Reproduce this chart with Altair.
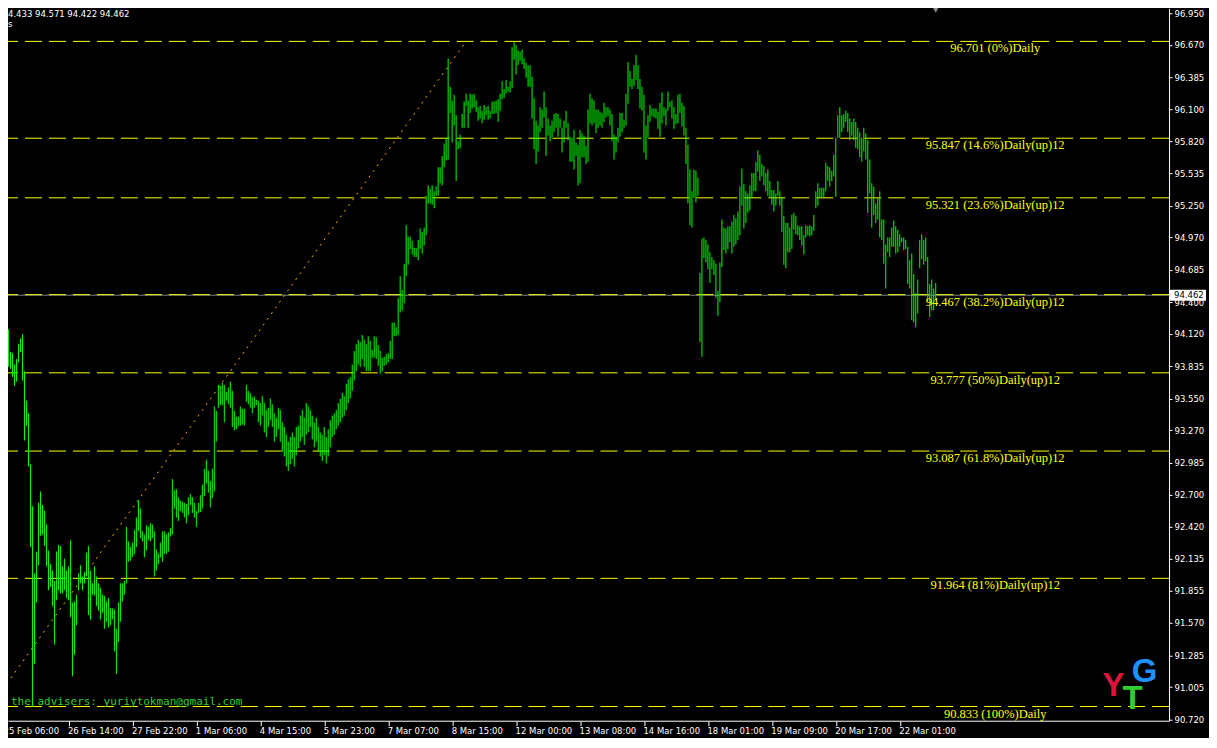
import altair as alt
import pandas as pd

# ---------------- data ----------------
bar_high = [
    94.16, 93.96, 93.95, 93.85, 93.90, 94.03, 94.08, 94.12, 93.79, 93.53,
    93.42, 92.97, 92.60, 92.01, 92.20, 92.63, 92.73, 92.61, 92.56, 92.44,
    92.21, 92.09, 92.03, 91.94, 92.20, 92.26, 92.25, 92.07, 92.14, 92.03,
    92.07, 92.30, 91.75, 91.76, 91.82, 92.01, 92.08, 91.98, 92.02, 92.19,
    92.25, 92.03, 91.92, 92.07, 91.98, 91.92, 91.88, 91.82, 91.81, 91.76,
    91.79, 91.70, 91.70, 91.69, 91.52, 91.75, 91.92, 91.92, 91.94, 92.42,
    92.29, 92.24, 92.28, 92.39, 92.50, 92.65, 92.58, 92.38, 92.35, 92.43,
    92.42, 92.45, 92.44, 92.38, 92.22, 92.18, 92.28, 92.38, 92.38, 92.35,
    92.37, 92.41, 92.84, 92.74, 92.75, 92.68, 92.65, 92.64, 92.63, 92.62,
    92.68, 92.71, 92.68, 92.63, 92.56, 92.63, 92.70, 92.79, 92.93, 93.01,
    92.91, 92.82, 92.93, 93.48, 93.44, 93.67, 93.66, 93.69, 93.67, 93.61,
    93.65, 93.70, 93.62, 93.44, 93.39, 93.39, 93.48, 93.46, 93.46, 93.67,
    93.62, 93.60, 93.56, 93.57, 93.54,
    93.53, 93.51, 93.57, 93.51, 93.45,
    93.47, 93.55, 93.50, 93.42, 93.38, 93.47, 93.45, 93.34, 93.30, 93.23,
    93.17, 93.21, 93.25, 93.21, 93.30, 93.31, 93.40, 93.45, 93.38, 93.51,
    93.48, 93.45, 93.40, 93.34, 93.38, 93.30, 93.25, 93.23, 93.30, 93.21,
    93.28, 93.36, 93.40, 93.42, 93.45, 93.51, 93.55, 93.60, 93.57, 93.68,
    93.72, 93.74, 93.85, 93.97, 94.03, 94.07, 94.05, 94.11, 94.07, 94.03,
    94.10, 94.06, 93.98, 94.10, 94.09, 94.02, 93.97, 93.91, 93.92, 93.94,
    93.95, 94.06, 94.22, 94.22, 94.18, 94.44, 94.63, 94.51, 94.74, 95.08,
    94.98, 94.98, 94.94, 94.88, 94.88, 94.95, 95.05, 95.02, 95.06, 95.34,
    95.43, 95.40, 95.43, 95.38, 95.42, 95.59, 95.59, 95.69, 95.80, 95.85,
    96.55, 96.30, 96.18, 96.23, 96.05, 95.82, 95.88, 96.06, 96.17, 96.24,
    96.18, 96.24, 96.23, 96.24, 96.18, 96.12, 96.13, 96.09, 96.14, 96.12,
    96.13, 96.09, 96.17, 96.17, 96.18, 96.19, 96.24, 96.35, 96.28, 96.36,
    96.30, 96.35, 96.65, 96.70, 96.67, 96.62, 96.61, 96.63, 96.55, 96.51,
    96.49, 96.49, 96.39, 96.20, 96.00, 95.96, 96.12, 96.10, 96.26, 96.12,
    96.02, 95.96, 96.00, 96.06, 96.07, 96.06, 96.02, 95.94, 96.00, 96.09,
    95.98, 95.86, 95.85, 95.92, 95.81, 95.79, 95.92, 95.89, 95.87, 95.78,
    96.10, 96.24, 96.20, 96.18, 96.10, 96.10, 96.08, 96.07, 96.16, 96.12,
    96.12, 96.10, 96.06, 95.88, 95.86, 95.94, 96.07, 96.07, 96.01, 96.24,
    96.52, 96.44, 96.37, 96.49, 96.58, 96.49, 96.37, 96.30, 96.23, 95.96,
    96.05, 96.14, 96.11, 96.11, 96.11, 96.08, 96.16, 96.25, 96.12, 96.11,
    96.26, 96.17, 96.18, 96.12, 96.06, 96.23, 96.24, 96.16, 96.13, 95.94,
    95.79, 95.57, 95.38, 95.57, 95.56, 95.50, 94.66, 94.96, 94.97, 94.95,
    94.91, 94.84, 94.80, 94.77, 94.74, 94.50, 94.75, 95.13, 95.06, 95.05,
    95.07, 95.07, 95.11, 95.17, 95.14, 95.20, 95.42, 95.58, 95.44, 95.38,
    95.36, 95.43, 95.54, 95.54, 95.64, 95.74, 95.70, 95.62, 95.60, 95.54,
    95.57, 95.47, 95.39, 95.39, 95.36, 95.47, 95.38, 95.33, 95.16, 95.10,
    95.10, 95.06, 95.17, 95.19, 95.16, 95.08, 95.07, 95.07, 94.99, 95.08,
    95.07, 95.08, 95.07, 95.17, 95.38, 95.45, 95.41, 95.41, 95.41, 95.63,
    95.60, 95.59, 95.56, 95.70, 95.85, 96.05, 96.12, 96.05, 96.06, 96.09,
    96.07, 96.02, 95.99, 96.02, 95.99, 95.94, 95.90, 95.85, 95.94, 95.89,
    95.83, 95.66, 95.45, 95.42, 95.27, 95.32, 95.38, 95.13, 95.13, 94.91,
    94.97, 94.97, 95.06, 95.12, 95.07, 95.04, 95.00, 94.97, 94.97, 94.95,
    94.89, 94.77, 94.83, 94.65, 94.48, 94.60, 94.95, 95.00, 94.95, 94.97,
    94.80, 94.56, 94.60, 94.52, 94.57,
]

bar_low = [
    93.83, 93.81, 93.74, 93.66, 93.70, 93.87, 93.96, 93.71, 93.18, 93.31,
    92.95, 92.24, 90.83, 91.21, 91.75, 92.08, 92.34, 92.35, 92.25, 92.07,
    91.86, 91.89, 91.72, 91.38, 91.77, 91.86, 91.83, 91.83, 91.86, 91.79,
    91.77, 91.62, 91.10, 91.29, 91.55, 91.86, 91.92, 91.86, 91.92, 91.98,
    91.64, 91.60, 91.82, 91.81, 91.72, 91.68, 91.60, 91.66, 91.52, 91.58,
    91.53, 91.55, 91.60, 91.32, 91.12, 91.40, 91.58, 91.76, 91.82, 91.92,
    92.11, 92.12, 92.15, 92.18, 92.24, 92.38, 92.32, 92.29, 92.15, 92.21,
    92.30, 92.29, 92.32, 91.98, 92.03, 92.09, 92.15, 92.11, 92.18, 92.18,
    92.20, 92.33, 92.35, 92.58, 92.50, 92.47, 92.56, 92.54, 92.50, 92.45,
    92.52, 92.61, 92.54, 92.50, 92.42, 92.54, 92.55, 92.58, 92.69, 92.80,
    92.72, 92.59, 92.67, 92.73, 93.17, 93.47, 93.49, 93.49, 93.34, 93.53,
    93.50, 93.47, 93.30, 93.27, 93.28, 93.31, 93.31, 93.32, 93.31, 93.52,
    93.50, 93.47, 93.42, 93.47, 93.49,
    93.34, 93.31, 93.40, 93.25, 93.21,
    93.30, 93.36, 93.30, 93.17, 93.21, 93.28, 93.17, 93.08, 93.04, 92.95,
    92.91, 92.97, 93.02, 92.95, 93.05, 93.11, 93.17, 93.21, 93.14, 93.23,
    93.25, 93.30, 93.19, 93.12, 93.17, 93.08, 93.04, 93.00, 93.05, 92.98,
    93.04, 93.12, 93.21, 93.23, 93.28, 93.31, 93.34, 93.38, 93.40, 93.45,
    93.51, 93.55, 93.62, 93.71, 93.79, 93.85, 93.83, 93.90, 93.83, 93.79,
    93.79, 93.79, 93.91, 93.91, 93.90, 93.84, 93.77, 93.79, 93.84, 93.85,
    93.87, 93.90, 93.90, 94.10, 94.10, 94.11, 94.31, 94.33, 94.39, 94.63,
    94.73, 94.87, 94.82, 94.80, 94.80, 94.77, 94.87, 94.83, 94.90, 94.99,
    95.27, 95.27, 95.26, 95.23, 95.34, 95.34, 95.45, 95.43, 95.59, 95.65,
    95.66, 96.07, 95.81, 95.96, 95.47, 95.75, 95.76, 95.94, 95.94, 96.13,
    95.94, 96.07, 96.11, 96.12, 96.08, 96.00, 96.02, 95.98, 96.01, 96.05,
    96.01, 96.02, 96.06, 96.06, 96.07, 95.99, 96.09, 96.19, 96.20, 96.24,
    96.26, 96.25, 96.29, 96.54, 96.41, 96.49, 96.53, 96.50, 96.46, 96.38,
    96.30, 96.30, 96.02, 95.75, 95.62, 95.73, 95.90, 95.94, 96.03, 95.69,
    95.87, 95.82, 95.85, 95.90, 95.94, 95.86, 95.94, 95.72, 95.81, 95.94,
    95.83, 95.64, 95.64, 95.57, 95.69, 95.43, 95.45, 95.68, 95.68, 95.62,
    95.64, 95.98, 95.96, 95.98, 95.89, 95.94, 95.96, 95.94, 95.99, 96.03,
    96.04, 95.96, 95.82, 95.66, 95.72, 95.81, 95.86, 95.90, 95.94, 95.96,
    96.15, 96.30, 96.28, 96.31, 96.36, 96.28, 96.11, 96.09, 95.72, 95.66,
    95.85, 95.99, 96.04, 96.03, 96.02, 95.93, 95.86, 95.98, 96.04, 95.96,
    96.09, 96.12, 96.02, 95.93, 95.97, 95.98, 96.07, 95.95, 95.87, 95.62,
    95.27, 95.08, 95.06, 95.32, 95.28, 95.34, 94.05, 93.92, 94.79, 94.75,
    94.69, 94.57, 94.69, 94.64, 94.44, 94.28, 94.40, 94.71, 94.86, 94.83,
    94.87, 94.93, 94.83, 94.89, 94.91, 94.95, 94.99, 95.25, 95.05, 95.10,
    95.19, 95.21, 95.32, 95.38, 95.38, 95.55, 95.47, 95.51, 95.43, 95.38,
    95.34, 95.32, 95.26, 95.20, 95.25, 95.34, 95.25, 95.02, 94.73, 94.70,
    94.84, 94.84, 94.87, 95.04, 95.00, 94.99, 94.95, 94.90, 94.82, 94.97,
    94.99, 94.98, 94.99, 95.03, 95.23, 95.25, 95.32, 95.32, 95.33, 95.38,
    95.47, 95.42, 95.47, 95.51, 95.33, 95.85, 95.85, 95.90, 95.94, 95.99,
    95.90, 95.83, 95.87, 95.83, 95.76, 95.75, 95.68, 95.64, 95.73, 95.66,
    95.19, 95.36, 95.06, 95.17, 95.10, 95.13, 94.97, 94.95, 94.74, 94.52,
    94.84, 94.80, 94.89, 94.89, 94.83, 94.84, 94.89, 94.93, 94.86, 94.87,
    94.56, 94.52, 94.24, 94.22, 94.18, 94.30, 94.70, 94.78, 94.73, 94.76,
    94.41, 94.27, 94.33, 94.33, 94.42,
]

fib_levels = [96.701, 95.847, 95.321, 94.467, 93.777, 93.087, 91.964, 90.833]
fib_labels = [
    "96.701 (0%)Daily",
    "95.847 (14.6%)Daily(up)12",
    "95.321 (23.6%)Daily(up)12",
    "94.467 (38.2%)Daily(up)12",
    "93.777 (50%)Daily(up)12",
    "93.087 (61.8%)Daily(up)12",
    "91.964 (81%)Daily(up)12",
    "90.833 (100%)Daily",
]
fib_label_bar = 493.75

trend_bar = [-9, 229]
trend_price = [90.833, 96.701]

bid_price = 94.462

y_ticks = [96.95, 96.67, 96.385, 96.1, 95.82, 95.535, 95.25, 94.97, 94.685, 94.4,
           94.12, 93.835, 93.55, 93.27, 92.985, 92.7, 92.42, 92.135, 91.855,
           91.57, 91.285, 91.005, 90.72]
x_tick_bars = [30, 62, 94, 126, 158, 190, 222, 254, 286, 318, 350, 382, 414, 446]
x_tick_labels = ["26 Feb 14:00", "27 Feb 22:00", "1 Mar 06:00",
                 "4 Mar 15:00", "5 Mar 23:00", "7 Mar 07:00", "8 Mar 15:00",
                 "12 Mar 00:00", "13 Mar 08:00", "14 Mar 16:00", "18 Mar 01:00",
                 "19 Mar 09:00", "20 Mar 17:00", "22 Mar 01:00"]
# first time label, whose tick lies just left of the visible area
first_label_bar = [-2]
first_label_text = ["25 Feb 06:00"]

header_text = ["4.433 94.571 94.422 94.462", "s"]
header_bar = [-0.25, -0.25]
header_price = [96.976, 96.89]

email_text = ["the advisers: yuriytokman@gmail.com"]
email_bar = [1.25]
email_price = [90.845]

logo_letters = ["Y", "T", "G"]
logo_bar = [553.0, 562.5, 568.5]
logo_price = [90.93, 90.815, 91.05]
logo_colors = ["#DC143C", "#32CD32", "#1E90FF"]

# ---------------- chart ----------------
W, H = 1162, 713
n = min(len(bar_high), len(bar_low))
bars = pd.DataFrame({"bar": list(range(n)), "high": bar_high[:n], "low": bar_low[:n]})
fib = pd.DataFrame({"level": fib_levels, "label": fib_labels,
                    "bar": [fib_label_bar] * len(fib_levels)})
trend = pd.DataFrame({"bar": trend_bar, "price": trend_price})
bid = pd.DataFrame({"price": [bid_price], "txt": [f"{bid_price:.3f}"]})
header = pd.DataFrame({"bar": header_bar, "price": header_price, "t": header_text})
email = pd.DataFrame({"bar": email_bar, "price": email_price, "t": email_text})
logo = pd.DataFrame({"bar": logo_bar, "price": logo_price, "t": logo_letters, "c": logo_colors})
marker = pd.DataFrame({"bar": [n - 1], "price": [96.975]})
first_lab = pd.DataFrame({"bar": first_label_bar, "t": first_label_text})

xs = alt.Scale(domain=[-0.25, 580.75], nice=False, zero=False, padding=0)
ys = alt.Scale(domain=[90.708, 96.993], nice=False, zero=False)

label_expr = ("[" + ",".join(f"'{s}'" for s in x_tick_labels) + "][indexof(["
              + ",".join(str(v) for v in x_tick_bars) + "], datum.value)]")

x_axis = alt.Axis(values=x_tick_bars, labelExpr=label_expr, labelAlign="left",
                  labelBaseline="top", tickSize=5, labelPadding=1, labelFlush=False,
                  labelOverlap=False, grid=False, title=None, domainColor="#FFFFFF",
                  tickColor="#FFFFFF", labelColor="#FFFFFF", labelFont="DejaVu Sans",
                  labelFontSize=8.5, labelOffset=-1)
y_axis = alt.Axis(values=y_ticks, format=".3f", orient="right", tickSize=3,
                  labelPadding=2, labelFlush=False, labelOverlap=False, grid=False,
                  title=None, domainColor="#FFFFFF", tickColor="#FFFFFF",
                  labelColor="#FFFFFF", labelFont="DejaVu Sans", labelFontSize=8.5)


def X(field):
    return alt.X(field, scale=xs, axis=x_axis)


def Y(field):
    return alt.Y(field, scale=ys, axis=y_axis)


bid_line = alt.Chart(bid).mark_rule(color="#778899", strokeWidth=1).encode(
    y=Y("price:Q"))

fib_lines = alt.Chart(fib).mark_rule(color="#FFFF00", strokeWidth=1,
                                     strokeDash=[17, 7]).encode(
    y=Y("level:Q"))

trend_line = alt.Chart(trend).mark_line(color="#FFB000", strokeWidth=1,
                                        strokeDash=[2, 5]).encode(
    x=X("bar:Q"), y=Y("price:Q"))

bar_marks = alt.Chart(bars).mark_bar(color="#00FF00", width=1, opacity=1).encode(
    x=X("bar:Q"), y=Y("high:Q"), y2="low:Q")

fib_text = alt.Chart(fib).mark_text(color="#FFFF00", font="Liberation Serif",
                                    fontSize=12.5, align="center", baseline="top",
                                    dy=1).encode(
    x=X("bar:Q"), y=Y("level:Q"), text="label:N")

header_marks = alt.Chart(header).mark_text(color="#FFFFFF", font="DejaVu Sans",
                                           fontSize=8.5, align="left",
                                           baseline="top").encode(
    x=X("bar:Q"), y=Y("price:Q"), text="t:N")

email_marks = alt.Chart(email).mark_text(color="#32CD32", font="DejaVu Sans Mono",
                                         fontSize=11, align="left",
                                         baseline="alphabetic").encode(
    x=X("bar:Q"), y=Y("price:Q"), text="t:N")

logo_marks = alt.Chart(logo).mark_text(font="Liberation Sans", fontWeight="bold",
                                       fontSize=33, align="center",
                                       baseline="alphabetic").encode(
    x=X("bar:Q"), y=Y("price:Q"), text="t:N", color=alt.Color("c:N", scale=None))

marker_marks = alt.Chart(marker).mark_point(shape="triangle-down", filled=True,
                                            size=30, color="#8A8A8A",
                                            opacity=1).encode(
    x=X("bar:Q"), y=Y("price:Q"))

first_label = alt.Chart(first_lab).mark_text(color="#FFFFFF", font="DejaVu Sans",
                                             fontSize=8.5, align="left",
                                             baseline="top", dx=-1).encode(
    x=X("bar:Q"), y=alt.value(H + 6), text="t:N")

tag_box = alt.Chart(bid).mark_rule(color="#FFFFFF", strokeWidth=11).encode(
    y=Y("price:Q"), x=alt.value(W + 1), x2=alt.value(W + 37))

tag_text = alt.Chart(bid).mark_text(color="#000000", font="DejaVu Sans",
                                    fontSize=8.5, align="left",
                                    baseline="middle").encode(
    y=Y("price:Q"), x=alt.value(W + 5), text="txt:N")

chart = alt.layer(
    bid_line, fib_lines, trend_line, bar_marks, fib_text, header_marks,
    email_marks, logo_marks, marker_marks, first_label, tag_box, tag_text
).properties(
    width=W, height=H,
    autosize=alt.AutoSizeParams(type="none"),
    padding={"left": 0, "top": 0, "right": 40, "bottom": 17},
    background="#000000",
).configure_view(strokeWidth=0)

chart.save("out.html", embed_options={"renderer": "svg", "actions": False})
